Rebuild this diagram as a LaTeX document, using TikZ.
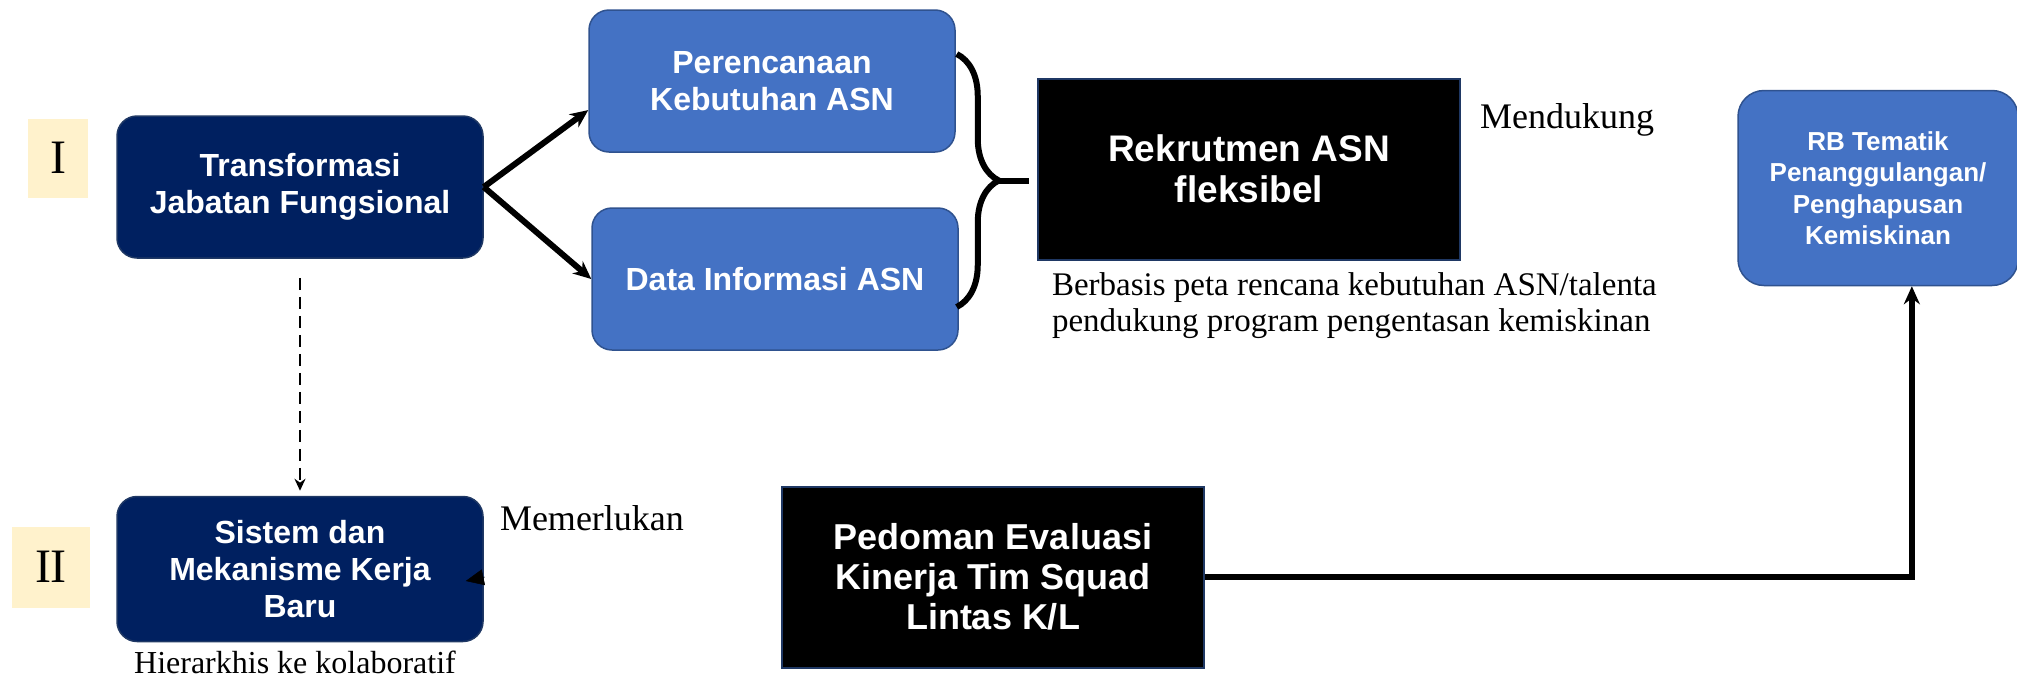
\documentclass[tikz,border=0pt]{standalone}
\usepackage{fontspec}
\setmainfont{Liberation Serif}
\setsansfont{Liberation Sans}
\usetikzlibrary{arrows,arrows.meta,calc,decorations.pathreplacing}

\definecolor{navyfill}{HTML}{002060}
\definecolor{navyline}{HTML}{1F3864}
\definecolor{bluefill}{HTML}{4472C4}
\definecolor{blueline}{HTML}{2F528F}
\definecolor{romanfill}{HTML}{FFF2CC}

\begin{document}
\begin{tikzpicture}[x=1pt,y=-1pt,->,>={Stealth[length=18pt,width=16pt]},line width=6pt,
  dark node/.style={rectangle,rounded corners=20pt,fill=navyfill,draw=navyline,line width=1.5pt,text=white,align=center,inner sep=0pt,minimum width=366pt,minimum height=142pt,font=\sffamily\bfseries\fontsize{32}{37}\selectfont},
  blue node/.style={dark node,fill=bluefill,draw=blueline},
  black node/.style={rectangle,fill=black,draw=navyline,line width=2pt,text=white,align=center,inner sep=0pt,minimum width=422pt,minimum height=181pt,font=\sffamily\bfseries\fontsize{36}{40}\selectfont},
  roman node/.style={rectangle,fill=romanfill,inner sep=0pt,font=\fontsize{48}{48}\selectfont},
  note/.style={inner sep=0pt,align=left,font=\fontsize{33}{36}\selectfont}]

\useasboundingbox (0,0) rectangle (2017,678);

\node[dark node](TJ) at (300,187) {Transformasi\\Jabatan Fungsional};
\node[blue node](PK) at (772,81) {Perencanaan\\Kebutuhan ASN};
\node[blue node](DI) at (775,279) {Data Informasi ASN};
\node[dark node,minimum height=145pt](SM) at (300,569) {Sistem dan\\Mekanisme Kerja\\Baru};
\node[black node,font=\sffamily\bfseries\fontsize{37}{41}\selectfont](RA) at (1249,169) {Rekrutmen ASN\\fleksibel};
\node[black node](PE) at (993,577) {Pedoman Evaluasi\\Kinerja Tim Squad\\Lintas K/L};
\node[blue node,rounded corners=26pt,minimum width=280pt,minimum height=195pt,font=\sffamily\bfseries\fontsize{26}{31.5}\selectfont](RB) at (1878,188) {RB Tematik\\Penanggulangan/\\Penghapusan\\Kemiskinan};
\node[roman node,minimum width=60pt,minimum height=79pt](L1) at (58,158) {I};
\node[roman node,minimum width=78pt,minimum height=81pt](L2) at (51,567) {II};

\node[note,anchor=base west,font=\fontsize{36}{36}\selectfont](A1) at (497,530) {Memerlukan};
\node[note,anchor=base west,font=\fontsize{36}{36}\selectfont](A2) at (1477,128) {Mendukung};
\node[note,anchor=north west](A3) at (1049,270) {Berbasis peta rencana kebutuhan ASN/talenta\\pendukung program pengentasan kemiskinan};
\node[note,anchor=base,font=\fontsize{32}{32}\selectfont](A4) at (295,673) {Hierarkhis ke kolaboratif};

\coordinate (bt) at ($(PK.east)+(1,-27)$);
\coordinate (bb) at ($(DI.east)+(-2,28)$);
\coordinate (bm) at ($(bt)!.5!(bb)+(42,0)$);
\coordinate (mt) at ($(SM.east)+(1,8)$);

\path
(TJ.east) edge (PK.189)
(TJ.east) edge (DI.west)
(TJ) edge[line width=2pt,dash pattern=on 12pt off 7pt,shorten <=19pt,shorten >=5pt,-{Stealth[length=12pt,width=11pt]}] (SM)
(bm) edge[-,shorten >=8pt] (bm -| RA.west)
(mt) edge[line width=0.5pt,-{Triangle[length=18pt,width=16pt]}] ($(mt)+(-19,4)$);

\draw[-,decorate,decoration={brace,amplitude=42pt}] (bt) -- (bb);
\draw (PE.east) -| (RB.289);
\end{tikzpicture}
\end{document}
